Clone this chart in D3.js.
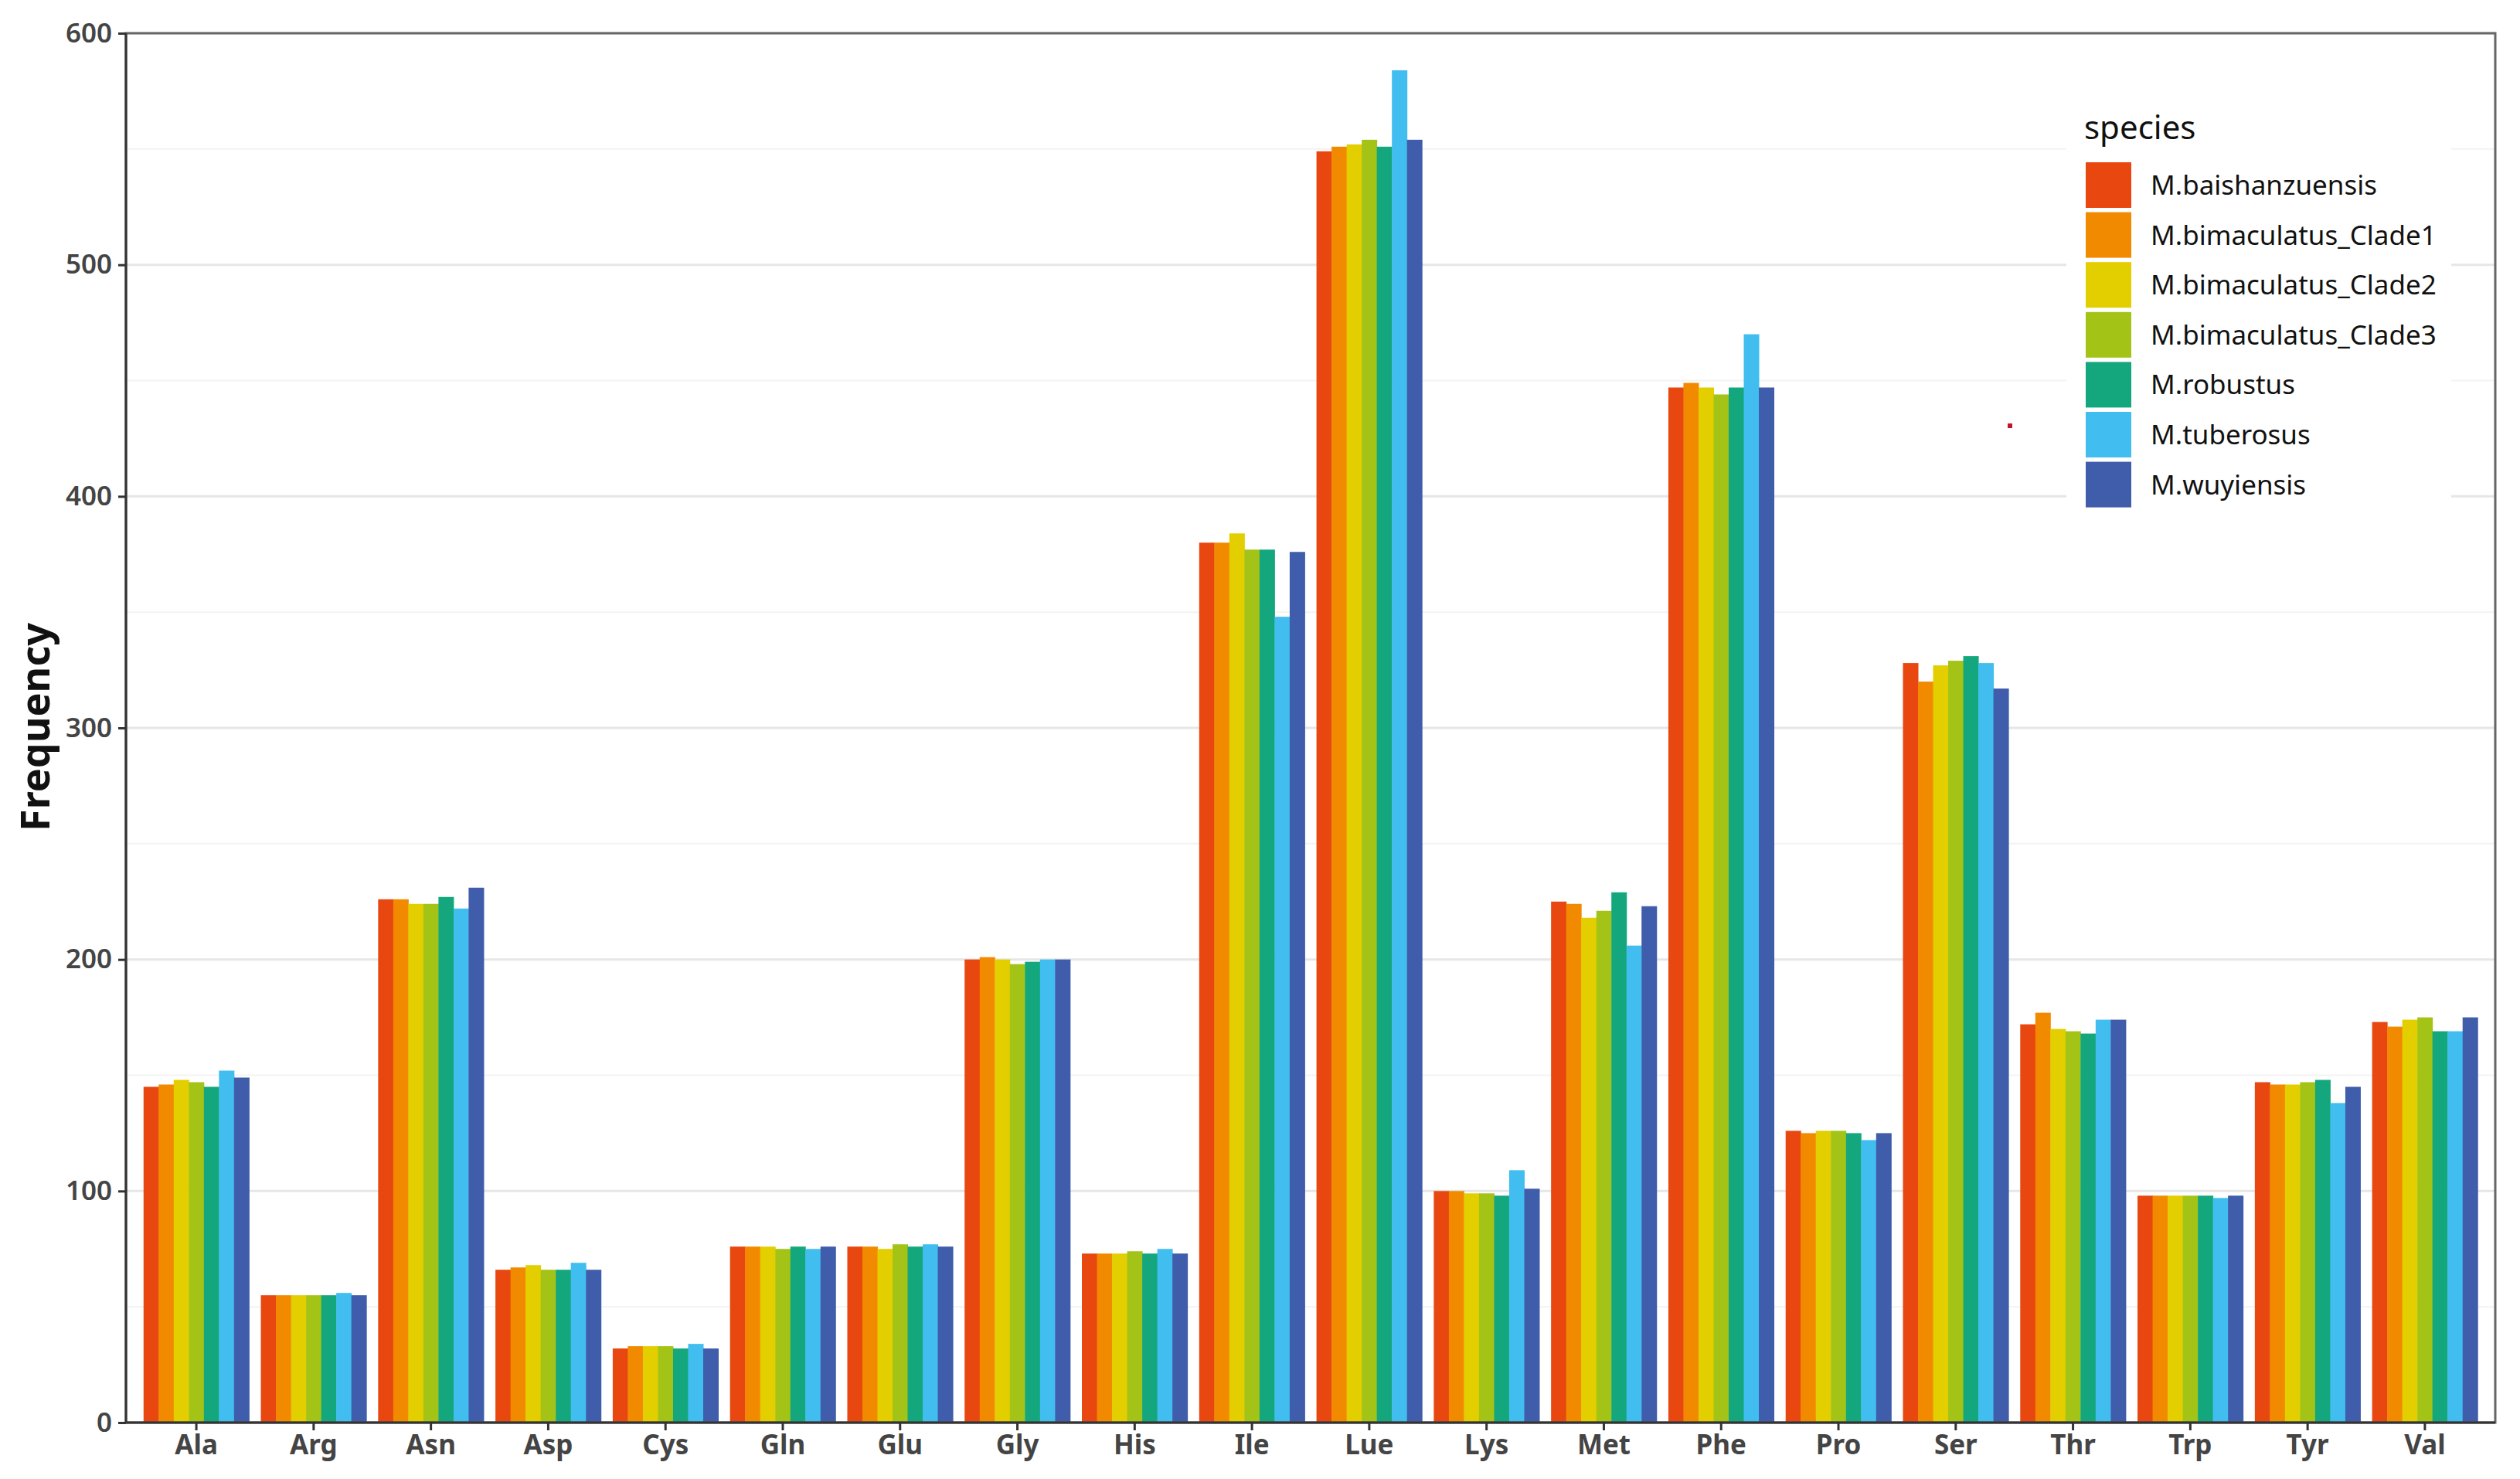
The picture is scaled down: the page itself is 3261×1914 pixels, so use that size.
<!DOCTYPE html>
<html>
<head>
<meta charset="utf-8">
<script src="https://cdn.jsdelivr.net/npm/d3@7"></script>
<style>
  html, body { margin: 0; padding: 0; background: #fff; }
  svg { display: block; }
</style>
</head>
<body>
<script>
const categories = ["Ala","Arg","Asn","Asp","Cys","Gln","Glu","Gly","His","Ile","Lue","Lys","Met","Phe","Pro","Ser","Thr","Trp","Tyr","Val"];
const species = ["M.baishanzuensis","M.bimaculatus_Clade1","M.bimaculatus_Clade2","M.bimaculatus_Clade3","M.robustus","M.tuberosus","M.wuyiensis"];
const colors = ["#E8470F","#F28A00","#E3CE00","#A3C417","#14A77D","#41BEEF","#3F5DAB"];
const yTicks = [0,100,200,300,400,500,600];

// values per species, in category order
const baishanzuensis = [145,55,226,66,32,76,76,200,73,380,549,100,225,447,126,328,172,98,147,173];
const clade1         = [146,55,226,67,33,76,76,201,73,380,551,100,224,449,125,320,177,98,146,171];
const clade2         = [148,55,224,68,33,76,75,200,73,384,552,99,218,447,126,327,170,98,146,174];
const clade3         = [147,55,224,66,33,75,77,198,74,377,554,99,221,444,126,329,169,98,147,175];
const robustus       = [145,55,227,66,32,76,76,199,73,377,551,98,229,447,125,331,168,98,148,169];
const tuberosus      = [152,56,222,69,34,75,77,200,75,348,584,109,206,470,122,328,174,97,138,169];
const wuyiensis      = [149,55,231,66,32,76,76,200,73,376,554,101,223,447,125,317,174,98,145,175];
const seriesValues = [baishanzuensis, clade1, clade2, clade3, robustus, tuberosus, wuyiensis];

const W = 3261, H = 1914;
const L = 163, R = 3229, T = 43, B = 1841;
const FONT = "'Noto Sans', 'Open Sans', sans-serif";

const svg = d3.select("body").append("svg").attr("width", W).attr("height", H)
  .style("font-family", FONT);

const x = d3.scaleBand().domain(categories).range([L, R]).paddingInner(0.1).paddingOuter(0.15);
const xs = d3.scaleBand().domain(species).range([0, x.bandwidth()]);
const y = d3.scaleLinear().domain([0, 600]).range([B, T]);

// minor grid
svg.append("g").selectAll("line").data(d3.range(50, 600, 100)).join("line")
  .attr("x1", L).attr("x2", R).attr("y1", d => y(d)).attr("y2", d => y(d))
  .attr("stroke", "#f3f3f3").attr("stroke-width", 2);
// major grid
svg.append("g").selectAll("line").data(yTicks).join("line")
  .attr("x1", L).attr("x2", R).attr("y1", d => y(d)).attr("y2", d => y(d))
  .attr("stroke", "#e6e6e6").attr("stroke-width", 3);

// legend background (covers grid)
svg.append("rect").attr("x", 2674).attr("y", 125).attr("width", 498).attr("height", 580).attr("fill", "#fff");

// bars
const rows = [];
categories.forEach((c, i) => species.forEach((s, j) => rows.push({c, s, j, v: seriesValues[j][i]})));
svg.append("g").selectAll("rect").data(rows).join("rect")
  .attr("x", d => x(d.c) + xs(d.s))
  .attr("width", xs.bandwidth() + 0.5)
  .attr("y", d => y(d.v))
  .attr("height", d => y(0) - y(d.v))
  .attr("fill", d => colors[d.j]);

// panel border
svg.append("rect").attr("x", L).attr("y", T).attr("width", R - L).attr("height", B - T)
  .attr("fill", "none").attr("stroke", "#666").attr("stroke-width", 3);
svg.append("line").attr("x1", L).attr("x2", L).attr("y1", T).attr("y2", B).attr("stroke", "#333").attr("stroke-width", 3);
svg.append("line").attr("x1", L).attr("x2", R).attr("y1", B).attr("y2", B).attr("stroke", "#333").attr("stroke-width", 3);

// y axis
const yAxis = svg.append("g").attr("transform", `translate(${L},0)`)
  .call(d3.axisLeft(y).tickValues(yTicks).tickSize(10).tickPadding(8));
yAxis.select(".domain").remove();
yAxis.selectAll(".tick line").attr("stroke", "#333").attr("stroke-width", 3);
yAxis.selectAll(".tick text").attr("fill", "#444").style("font-family", FONT)
  .style("font-size", "35px").style("font-weight", "600");

// x axis
const xAxis = svg.append("g").attr("transform", `translate(0,${B})`)
  .call(d3.axisBottom(x).tickSize(10).tickPadding(6));
xAxis.select(".domain").remove();
xAxis.selectAll(".tick line").attr("stroke", "#333").attr("stroke-width", 3);
xAxis.selectAll(".tick text").attr("fill", "#444").style("font-family", FONT)
  .style("font-size", "35px").style("font-weight", "700");

// y title
svg.append("text").attr("transform", `translate(64,${(800+1082)/2}) rotate(-90)`)
  .attr("text-anchor", "middle").style("font-size", "52px").style("font-weight", "700").attr("fill", "#111")
  .text("Frequency");

// legend
const lg = svg.append("g");
lg.append("text").attr("x", 2697).attr("y", 180).style("font-size", "42px").attr("fill", "#111").text("species");
const items = lg.selectAll("g.item").data(species).join("g").attr("class", "item")
  .attr("transform", (d, i) => `translate(2699,${210 + i * 64.6})`);
items.append("rect").attr("width", 59).attr("height", 59).attr("fill", (d, i) => colors[i]);
items.append("text").attr("x", 84).attr("y", 29.5).attr("dy", "0.36em").style("font-size", "35px").attr("fill", "#111").text(d => d);

// small stray mark in the original
svg.append("rect").attr("x", 2598).attr("y", 548).attr("width", 6).attr("height", 6).attr("fill", "#c0142d");
</script>
</body>
</html>
